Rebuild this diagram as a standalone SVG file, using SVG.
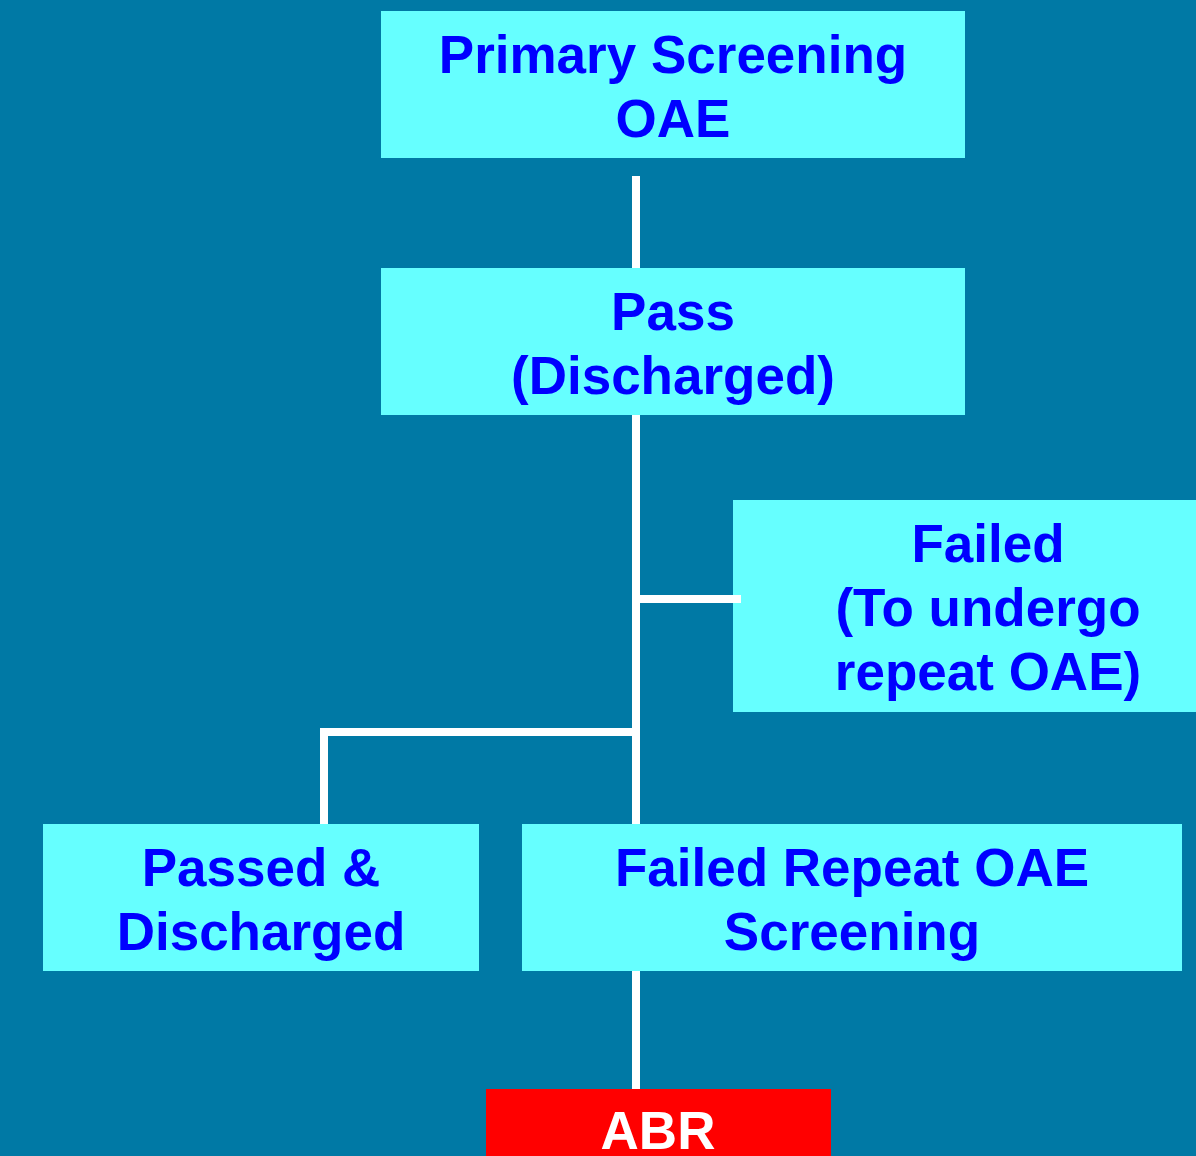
<svg xmlns="http://www.w3.org/2000/svg" width="1196" height="1156" viewBox="0 0 1196 1156">
<style>
.box{fill:#66FFFF}
.t{font-family:"Liberation Sans",Arial,sans-serif;font-weight:bold;font-size:53px;fill:#0000FF;text-anchor:middle}
.c{fill:#FFFFFF}
</style>
<rect x="0" y="0" width="1196" height="1156" fill="#0079A5"/>
<g id="primary">
<rect class="box" x="381" y="11" width="584" height="147"/>
<text class="t" x="673" y="73">Primary Screening</text>
<text class="t" x="673" y="137">OAE</text>
</g>
<g id="pass">
<rect class="box" x="381" y="268" width="584" height="147"/>
<text class="t" x="673" y="330">Pass</text>
<text class="t" x="673" y="394">(Discharged)</text>
</g>
<g id="failed">
<rect class="box" x="733" y="500" width="463" height="212"/>
<text class="t" x="988" y="562">Failed</text>
<text class="t" x="988" y="626">(To undergo</text>
<text class="t" x="988" y="690">repeat OAE)</text>
</g>
<g id="passed-discharged">
<rect class="box" x="43" y="824" width="436" height="147"/>
<text class="t" x="261" y="886">Passed &amp;</text>
<text class="t" x="261" y="950">Discharged</text>
</g>
<g id="failed-repeat">
<rect class="box" x="522" y="824" width="660" height="147"/>
<text class="t" x="852" y="886">Failed Repeat OAE</text>
<text class="t" x="852" y="950">Screening</text>
</g>
<g id="abr">
<rect x="486" y="1089" width="345" height="67" fill="#FF0000"/>
<text class="t" x="658" y="1149" style="fill:#FFFFFF">ABR</text>
</g>
<g id="connectors">
<rect class="c" x="632" y="176" width="8" height="92"/>
<rect class="c" x="632" y="415" width="8" height="409"/>
<rect class="c" x="640" y="595" width="101" height="8"/>
<rect class="c" x="321" y="728" width="311" height="8"/>
<rect class="c" x="320" y="728" width="8" height="96"/>
<rect class="c" x="632" y="971" width="8" height="118"/>
</g>
</svg>
